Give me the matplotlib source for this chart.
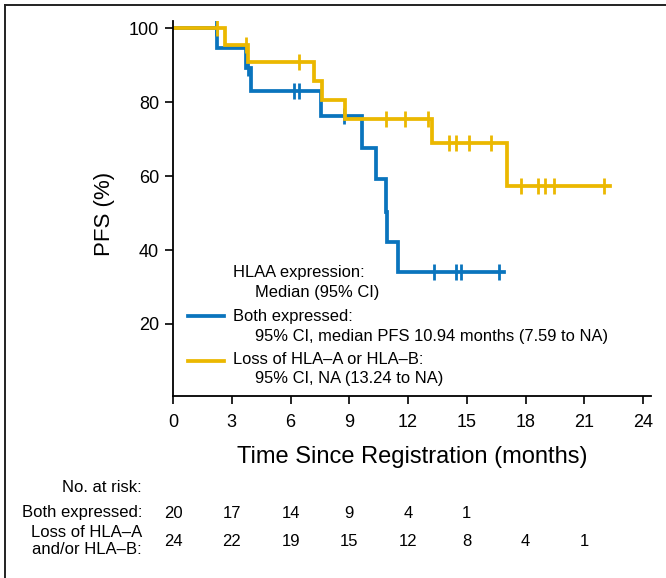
import numpy as np
import matplotlib
matplotlib.use('Agg')
import matplotlib.pyplot as plt
from matplotlib.lines import Line2D
from matplotlib.transforms import blended_transform_factory

plt.rcParams['font.family'] = ['Liberation Sans', 'DejaVu Sans']

# Kaplan-Meier steps
both_times = [0, 2.24, 3.7, 4.0, 7.54, 9.66, 10.34, 10.85, 10.94, 11.47]
both_surv = [100, 94.7, 89.4, 83.0, 76.2, 67.5, 59.2, 50.4, 42.2, 34.0]
both_end = 16.9
both_censor = [2.2, 3.85, 6.17, 6.44, 8.72, 13.34, 14.47, 14.69, 16.64]

loss_times = [0, 2.66, 3.85, 7.18, 7.62, 8.76, 13.2, 17.06]
loss_surv = [100, 95.6, 90.9, 85.8, 80.5, 75.6, 69.0, 57.3]
loss_end = 22.3
loss_censor = [2.27, 3.73, 6.44, 10.85, 11.84, 13.03, 14.1, 14.47, 15.11, 16.25,
               17.77, 18.64, 19.01, 19.47, 22.01]

risk_times = [0, 3, 6, 9, 12, 15, 18, 21]
risk_both = [20, 17, 14, 9, 4, 1]
risk_loss = [24, 22, 19, 15, 12, 8, 4, 1]

BLUE = '#0a74bd'
GOLD = '#ebb800'


def step_value(times, surv, t):
    idx = np.searchsorted(times, t, side='right') - 1
    return np.asarray(surv)[idx]


def draw_km(ax, times, surv, end, censor, color):
    x = list(times) + [end]
    y = list(surv) + [surv[-1]]
    ax.step(x, y, where='post', color=color, lw=2.7, solid_joinstyle='miter')
    cy = [step_value(times, surv, t) for t in censor]
    ax.plot(censor, cy, ls='none', marker='|', ms=12, mew=2.0, color=color)


fig = plt.figure(figsize=(6.66, 5.78), dpi=100)
ax = fig.add_axes([0.2598, 0.3149, 0.7177, 0.6488])

draw_km(ax, both_times, both_surv, both_end, both_censor, BLUE)
draw_km(ax, loss_times, loss_surv, loss_end, loss_censor, GOLD)

ax.set_xlim(0, 24.4)
ax.set_ylim(0.5, 102)
ax.set_xticks(range(0, 25, 3))
ax.set_yticks([20, 40, 60, 80, 100])
ax.spines['top'].set_visible(False)
ax.spines['right'].set_visible(False)
for s in ('left', 'bottom'):
    ax.spines[s].set_linewidth(1.3)
ax.tick_params(direction='out', length=6, width=1.2, labelsize=13, pad=4)
ax.tick_params(axis='x', pad=7)
ax.set_ylabel('PFS (%)', fontsize=16)
ax.yaxis.set_label_coords(-0.122, 0.485)
ax.set_xlabel('Time Since Registration (months)', fontsize=17, labelpad=11)

# legend block
W, H = 666.0, 578.0


def fx(px):
    return px / W


def fy(py):
    return 1 - py / H


fs = 11.9
fig.text(fx(233), fy(273), 'HLAA expression:', fontsize=fs, va='center')
fig.text(fx(255), fy(292), 'Median (95% CI)', fontsize=fs, va='center')
fig.add_artist(Line2D([fx(188), fx(224)], [fy(316), fy(316)], color=BLUE, lw=2.7))
fig.text(fx(233), fy(316), 'Both expressed:', fontsize=fs, va='center')
fig.text(fx(255), fy(336), '95% CI, median PFS 10.94 months (7.59 to NA)', fontsize=fs, va='center')
fig.add_artist(Line2D([fx(188), fx(224)], [fy(361), fy(361)], color=GOLD, lw=2.7))
fig.text(fx(233), fy(360), 'Loss of HLA\u2013A or HLA\u2013B:', fontsize=fs, va='center')
fig.text(fx(255), fy(379), '95% CI, NA (13.24 to NA)', fontsize=fs, va='center')

# number at risk table
bt = blended_transform_factory(ax.transData, fig.transFigure)
rs = 12
fig.text(fx(142), fy(487), 'No. at risk:', fontsize=rs, ha='right', va='center')
fig.text(fx(142), fy(513), 'Both expressed:', fontsize=rs, ha='right', va='center')
fig.text(fx(142), fy(541), 'Loss of HLA\u2013A\nand/or HLA\u2013B:', fontsize=rs, ha='right',
         va='center', multialignment='right', linespacing=1.15)
for t, n in zip(risk_times, risk_both):
    ax.text(t, fy(513), str(n), transform=bt, fontsize=rs, ha='center', va='center', clip_on=False)
for t, n in zip(risk_times, risk_loss):
    ax.text(t, fy(541), str(n), transform=bt, fontsize=rs, ha='center', va='center', clip_on=False)

# frame lines of the original panel (top and left edges)
fig.add_artist(Line2D([fx(5), 1], [fy(5), fy(5)], color='#222222', lw=1.4))
fig.add_artist(Line2D([fx(5), fx(5)], [0, fy(5)], color='#222222', lw=1.4))

fig.savefig('out.png', dpi=100)
